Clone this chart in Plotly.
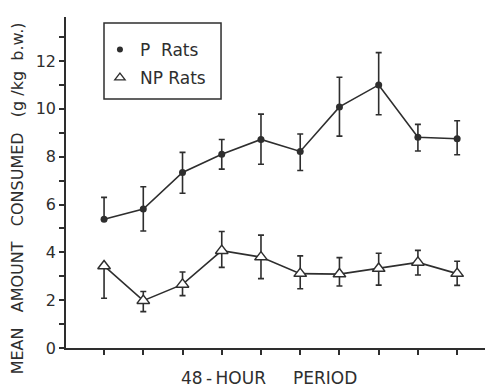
import plotly.graph_objects as go

periods = [1, 2, 3, 4, 5, 6, 7, 8, 9, 10]

p_mean = [5.38, 5.81, 7.34, 8.10, 8.72, 8.22, 10.08, 11.00, 8.81, 8.75]
p_upper = [6.30, 6.74, 8.18, 8.72, 9.78, 8.95, 11.32, 12.35, 9.35, 9.50]
p_lower = [5.38, 4.89, 6.47, 7.48, 7.68, 7.42, 8.86, 9.75, 8.24, 8.08]

np_mean = [3.43, 1.98, 2.66, 4.07, 3.80, 3.11, 3.09, 3.32, 3.58, 3.11]
np_upper = [3.43, 2.36, 3.18, 4.87, 4.72, 3.85, 3.78, 3.96, 4.08, 3.63]
np_lower = [2.08, 1.52, 2.19, 3.37, 2.90, 2.48, 2.59, 2.63, 3.05, 2.62]

y_ticks = [0, 2, 4, 6, 8, 10, 12]

INK = "#2e2e2e"
FONT = "DejaVu Sans"

def err(mean, up, lo):
    return dict(type="data", symmetric=False,
                array=[u - m for u, m in zip(up, mean)],
                arrayminus=[m - l for m, l in zip(mean, lo)],
                color=INK, thickness=1.6, width=3)

fig = go.Figure()
fig.add_trace(go.Scatter(x=periods, y=p_mean, mode="lines+markers", showlegend=False,
                         line=dict(color=INK, width=1.6),
                         marker=dict(symbol="circle", size=7, color=INK),
                         error_y=err(p_mean, p_upper, p_lower)))
fig.add_trace(go.Scatter(x=periods, y=np_mean, mode="lines+markers", showlegend=False,
                         line=dict(color=INK, width=1.6),
                         marker=dict(symbol="triangle-up", size=11, color="white",
                                     line=dict(color=INK, width=1.5)),
                         error_y=err(np_mean, np_upper, np_lower)))
# legend-only entries
fig.add_trace(go.Scatter(x=[None], y=[None], mode="markers", name="P\u00a0 Rats", legendgroup="a",
                         marker=dict(symbol="circle", size=6, color=INK)))
fig.add_trace(go.Scatter(x=[None], y=[None], mode="markers", name="NP Rats", legendgroup="b",
                         marker=dict(symbol="triangle-up-open", size=9, color=INK,
                                     line=dict(width=1.3))))

fig.update_layout(
    width=485, height=387,
    margin=dict(l=66, r=0, t=17, b=39),
    paper_bgcolor="white", plot_bgcolor="white",
    font=dict(family=FONT, color=INK, size=16),
    showlegend=True,
    legend=dict(x=0.081, y=0.955, xanchor="left", yanchor="top",
                borderwidth=0, bgcolor="rgba(0,0,0,0)",
                font=dict(size=17, family=FONT, color=INK), tracegroupgap=3,
                itemwidth=30),
    shapes=[dict(type="rect", xref="paper", yref="paper",
                 x0=0.0907, x1=0.370, y0=0.752, y1=0.982,
                 line=dict(color=INK, width=1.5), fillcolor="rgba(0,0,0,0)")],
    xaxis=dict(range=[0.03, 10.71], showgrid=False, zeroline=False,
               showline=True, linecolor=INK, linewidth=1.6,
               tickmode="array", tickvals=periods, showticklabels=False,
               ticks="outside", ticklen=5, tickcolor=INK, tickwidth=1.5),
    yaxis=dict(range=[0, 13.84], showgrid=False, zeroline=False,
               showline=True, linecolor=INK, linewidth=1.6,
               tickmode="array", tickvals=y_ticks, ticktext=[str(v) for v in y_ticks],
               ticks="outside", ticklen=5, tickcolor=INK, tickwidth=1.5,
               tickfont=dict(size=16, family=FONT),
               minor=dict(tickvals=[1, 3, 5, 7, 9, 11, 13], ticks="outside",
                          ticklen=5, tickcolor=INK, tickwidth=1.5)),
    annotations=[
        dict(text="MEAN\u00a0\u00a0 AMOUNT\u00a0\u00a0 CONSUMED\u00a0\u00a0 (g /kg\u00a0 b.w.)",
             xref="paper", yref="paper", x=-0.117, y=0.452, textangle=-90,
             xanchor="center", yanchor="middle", showarrow=False,
             font=dict(size=16, family=FONT, color=INK)),
        dict(text="48\u2009-\u2009HOUR\u00a0\u00a0\u00a0\u00a0 PERIOD",
             xref="paper", yref="paper", x=0.484, y=-0.09,
             xanchor="center", yanchor="middle", showarrow=False,
             font=dict(size=17, family=FONT, color=INK)),
    ],
)

fig.write_html("out.html")
